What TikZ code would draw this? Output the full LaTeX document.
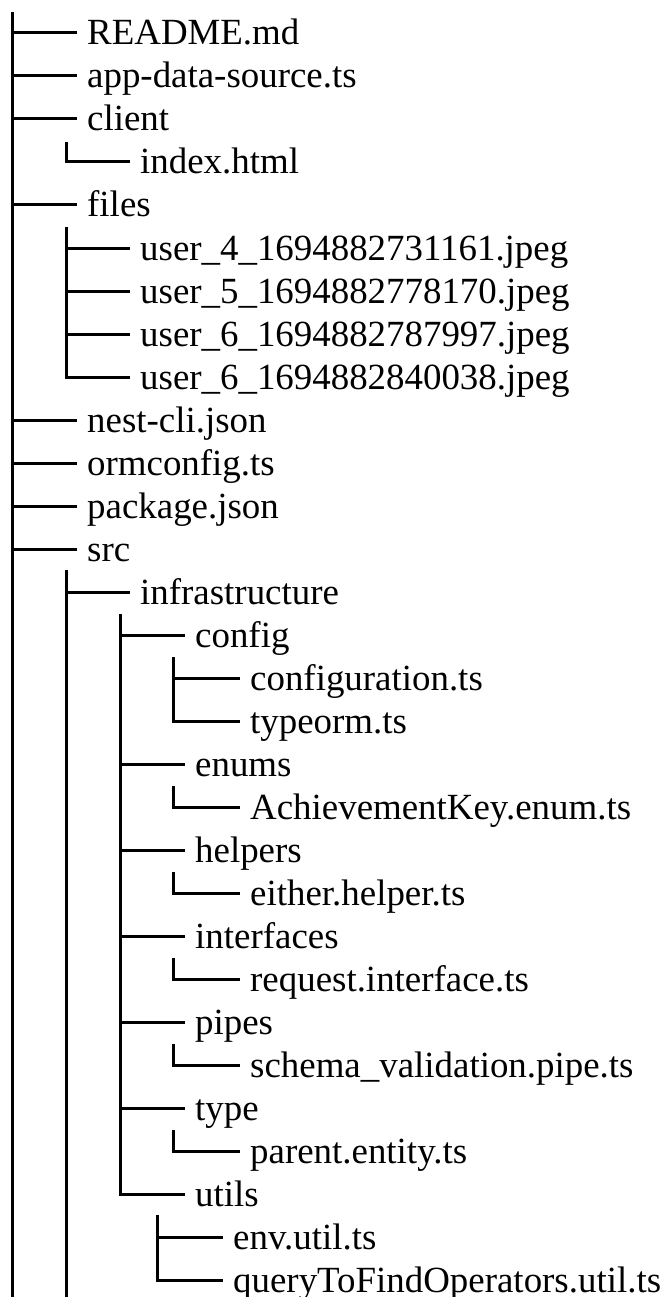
\documentclass[tikz,border=0pt]{standalone}
\usepackage{fontspec}
\setmainfont{Liberation Serif}
\begin{document}
\begin{tikzpicture}[x=1pt,y=1pt]
\tikzset{
  entry/.style={anchor=west, inner xsep=10pt, inner ysep=0pt,
    text height=30pt, text depth=6pt,
    font=\fontsize{36.9}{43}\selectfont},
  branch/.style={line width=3pt, line join=miter, line cap=butt}
}
\useasboundingbox (0,0) rectangle (669,-1297);

% ---- entries (west anchor = end of the branch line) ----
\node[entry] (readme)  at (77,-33)   {README.md};
\node[entry] (appds)   at (77,-76)   {app-data-source.ts};
\node[entry] (client)  at (77,-119)  {client};
\node[entry] (index)   at (130,-162) {index.html};
\node[entry] (files)   at (77,-205)  {files};
\node[entry] (ufa)     at (130,-248) {user\_4\_1694882731161.jpeg};
\node[entry] (ufb)     at (130,-291) {user\_5\_1694882778170.jpeg};
\node[entry] (ufc)     at (130,-334) {user\_6\_1694882787997.jpeg};
\node[entry] (ufd)     at (130,-377) {user\_6\_1694882840038.jpeg};
\node[entry] (nestcli) at (77,-420)  {nest-cli.json};
\node[entry] (ormcfg)  at (77,-463)  {ormconfig.ts};
\node[entry] (pkg)     at (77,-506)  {package.json};
\node[entry] (src)     at (77,-549)  {src};
\node[entry] (infra)   at (130,-592) {infrastructure};
\node[entry] (config)  at (185,-635) {config};
\node[entry] (cfgts)   at (240,-678) {configuration.ts};
\node[entry] (typeorm) at (240,-721) {typeorm.ts};
\node[entry] (enums)   at (185,-764) {enums};
\node[entry] (achkey)  at (240,-807) {AchievementKey.enum.ts};
\node[entry] (helpers) at (185,-850) {helpers};
\node[entry] (either)  at (240,-893) {either.helper.ts};
\node[entry] (ifaces)  at (185,-936) {interfaces};
\node[entry] (reqif)   at (240,-979) {request.interface.ts};
\node[entry] (pipes)   at (185,-1022) {pipes};
\node[entry] (schema)  at (240,-1065) {schema\_validation.pipe.ts};
\node[entry] (typed)   at (185,-1108) {type};
\node[entry] (parent)  at (240,-1151) {parent.entity.ts};
\node[entry] (utils)   at (185,-1194) {utils};
\node[entry] (envutil) at (223,-1237) {env.util.ts};
\node[entry] (query)   at (223,-1280) {queryToFindOperators.util.ts};

% ---- vertical guide ends ----
\coordinate (troot)  at (12,-12);
\coordinate (broot)  at (12,-1297);
\coordinate (tclient) at (66,-142);
\coordinate (tfiles)  at (66,-227);
\coordinate (tsrc)    at (66,-570);
\coordinate (bsrc)    at (66,-1297);
\coordinate (tinfra)  at (120,-614);
\coordinate (tconfig) at (173,-657);
\coordinate (tenums)  at (173,-786);
\coordinate (thelp)   at (173,-872);
\coordinate (tiface)  at (173,-958);
\coordinate (tpipes)  at (173,-1044);
\coordinate (ttype)   at (173,-1130);
\coordinate (tutils)  at (157,-1215);

% ---- root level (continues below) ----
\draw[branch] (troot) -- (broot);
\foreach \n in {readme,appds,client,files,nestcli,ormcfg,pkg,src}
  \draw[branch] (troot |- \n.west) -- (\n.west);

% ---- client ----
\draw[branch] (tclient) |- (index.west);

% ---- files ----
\foreach \n in {ufa,ufb,ufc}
  \draw[branch] (tfiles |- \n.west) -- (\n.west);
\draw[branch] (tfiles) |- (ufd.west);

% ---- src (continues below) ----
\draw[branch] (tsrc) -- (bsrc);
\draw[branch] (tsrc |- infra.west) -- (infra.west);

% ---- infrastructure ----
\foreach \n in {config,enums,helpers,ifaces,pipes,typed}
  \draw[branch] (tinfra |- \n.west) -- (\n.west);
\draw[branch] (tinfra) |- (utils.west);

% ---- infrastructure subfolders ----
\draw[branch] (tconfig |- cfgts.west) -- (cfgts.west);
\draw[branch] (tconfig) |- (typeorm.west);
\draw[branch] (tenums) |- (achkey.west);
\draw[branch] (thelp) |- (either.west);
\draw[branch] (tiface) |- (reqif.west);
\draw[branch] (tpipes) |- (schema.west);
\draw[branch] (ttype) |- (parent.west);
\draw[branch] (tutils |- envutil.west) -- (envutil.west);
\draw[branch] (tutils) |- (query.west);
\end{tikzpicture}
\end{document}
